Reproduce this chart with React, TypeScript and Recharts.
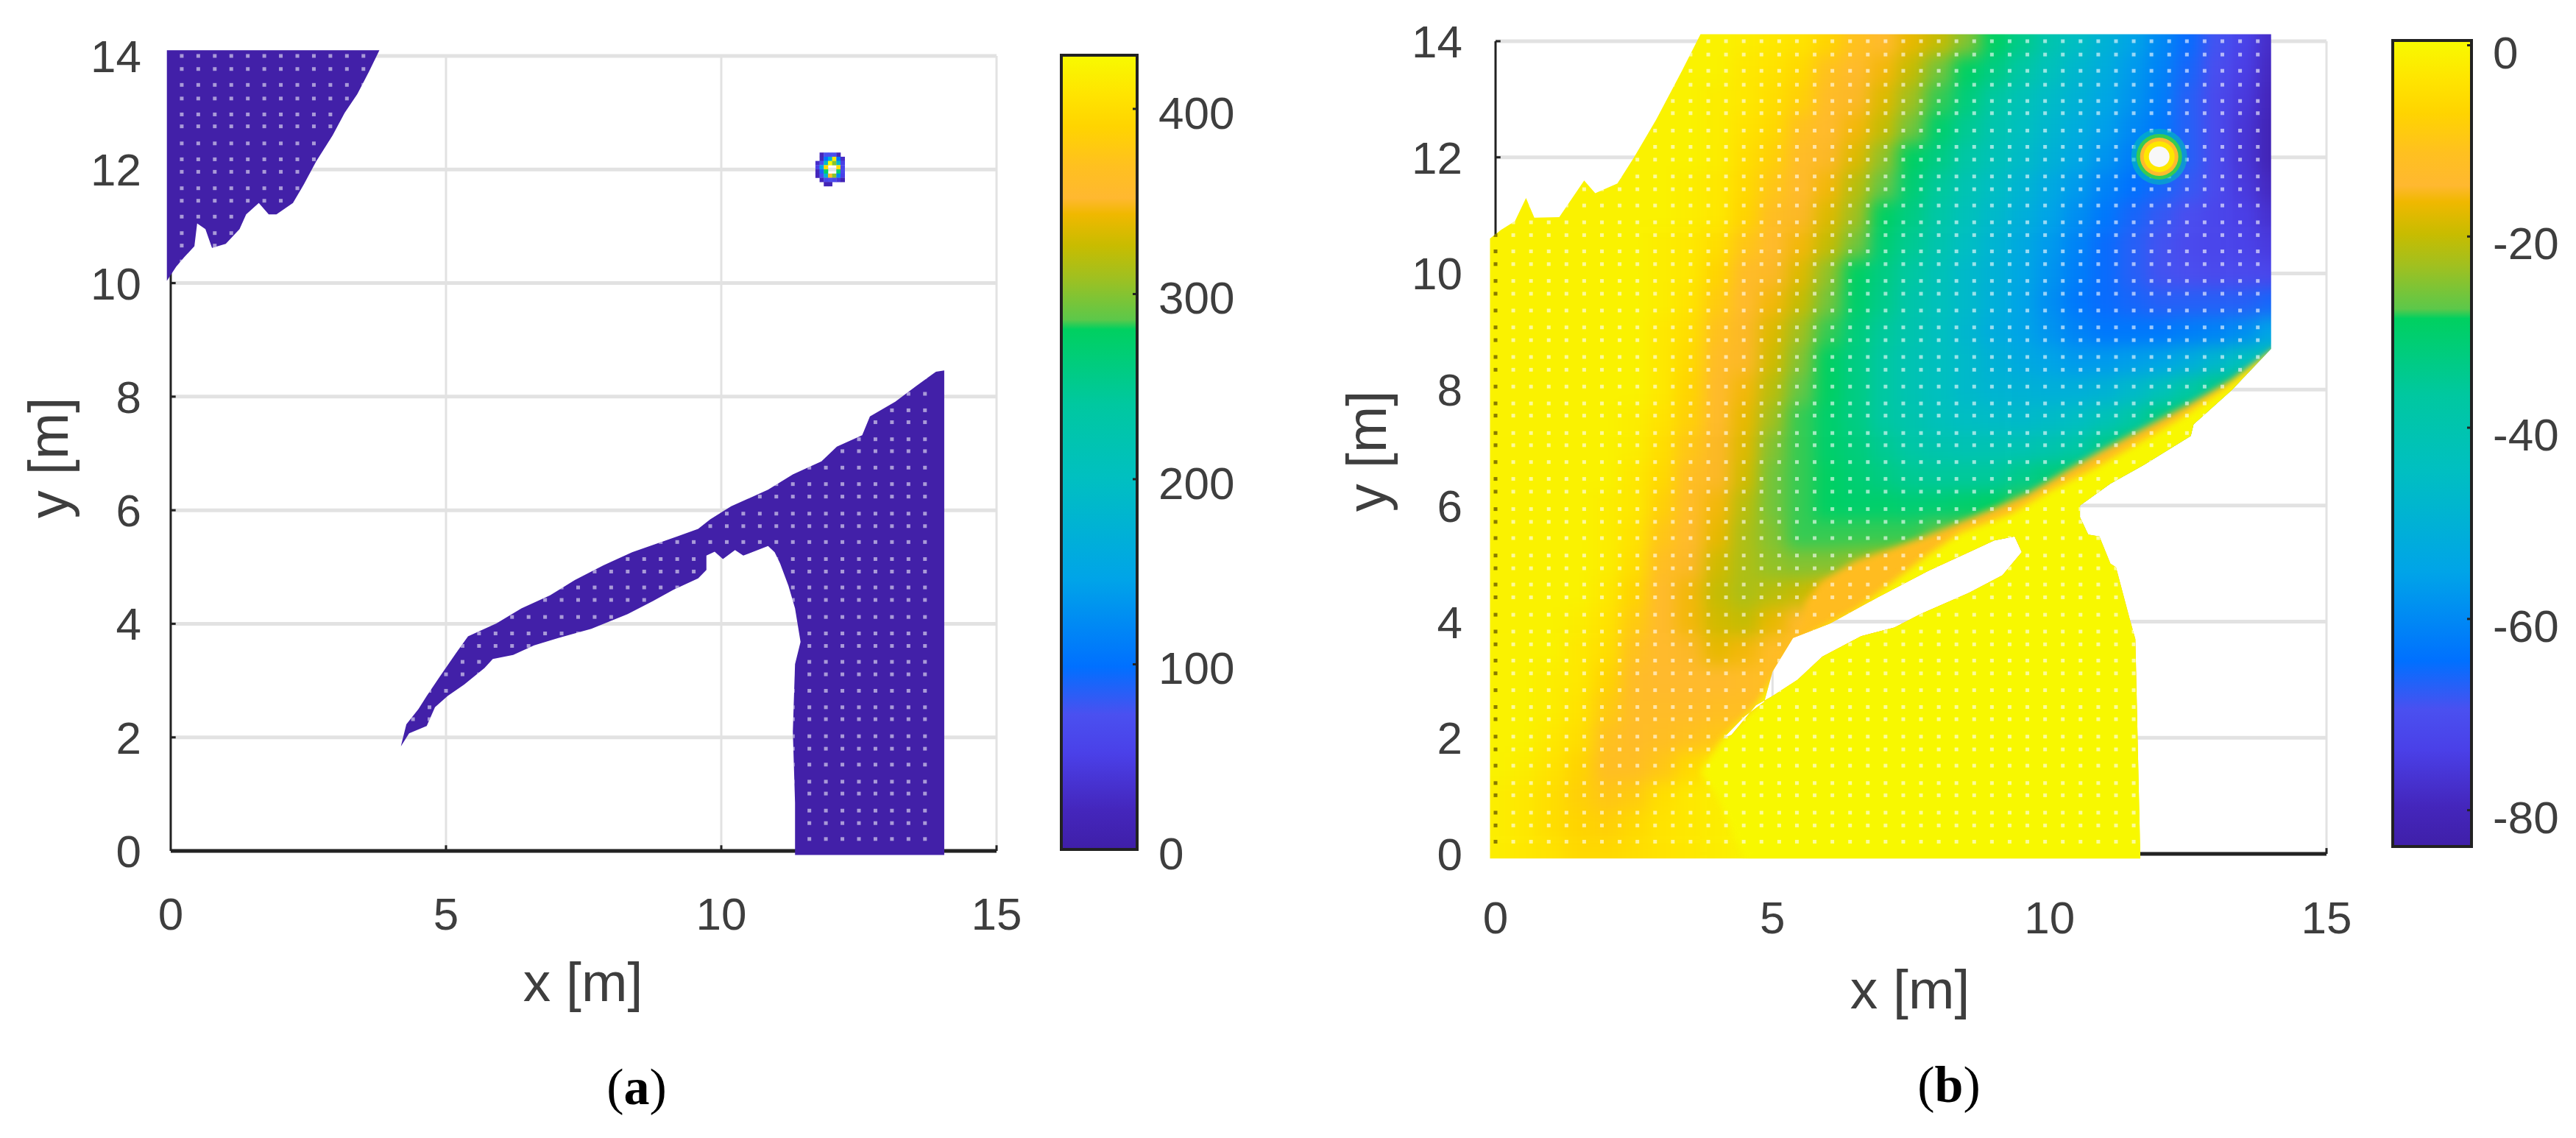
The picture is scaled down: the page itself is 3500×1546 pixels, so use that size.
import React from 'react';
import { ScatterChart, Scatter, XAxis, YAxis, ReferenceLine, Label, BarChart, Bar } from 'recharts';

// ---------- colour map (position along the bar, colour) ----------
const cmapT = [0, 0.05, 0.12, 0.17, 0.23, 0.34, 0.47, 0.56, 0.655, 0.667, 0.72, 0.76, 0.8, 0.82, 0.86, 0.91, 0.95, 1];
const cmapC = ['#3f1fa8', '#4426bc', '#4a40e8', '#4a50f0', '#0070ff', '#00a4e8', '#00c0c0', '#00c8a0', '#00d060', '#5cc84a', '#a0c020', '#c8bc00', '#f0b800', '#ffb830', '#ffc020', '#ffd400', '#ffe400', '#f8fa00'];

// ---------- axes ----------
const xTicks = [0, 5, 10, 15];
const yTicks = [0, 2, 4, 6, 8, 10, 12, 14];
const barTicksA = [0, 100, 200, 300, 400];
const barTicksB = [-80, -60, -40, -20, 0];
const barRangeA = [0, 429];
const barRangeB = [-83.8, 0.5];

// ---------- panel (a) regions ----------
const regionTopLeft = [[-0.07,14.1],[3.79,14.1],[3.6,13.72],[3.39,13.33],[3.16,13.0],[2.94,12.6],[2.64,12.14],[2.42,11.74],[2.22,11.41],[1.92,11.21],[1.78,11.21],[1.6,11.41],[1.37,11.21],[1.25,10.95],[1,10.69],[0.75,10.62],[0.63,10.95],[0.48,11.05],[0.43,10.65],[0.25,10.46],[0.1,10.29],[-0.07,10.04]];
const regionLower = [[4.18,1.84],[4.28,2.23],[4.5,2.5],[4.65,2.73],[4.88,3.06],[5.18,3.48],[5.4,3.78],[5.92,4.01],[6.37,4.27],[6.89,4.5],[7.34,4.77],[7.86,5.03],[8.38,5.26],[9.2,5.54],[9.58,5.67],[9.8,5.84],[10.18,6.07],[10.85,6.36],[11.3,6.63],[11.82,6.86],[12.1,7.12],[12.56,7.32],[12.7,7.65],[13.16,7.91],[13.53,8.18],[13.9,8.44],[14.05,8.46],[14.05,-0.07],[11.34,-0.07],[11.34,0.85],[11.3,2.1],[11.34,3.29],[11.44,3.68],[11.34,4.27],[11.22,4.67],[11.07,5.06],[10.97,5.26],[10.85,5.37],[10.4,5.2],[10.25,5.3],[10.03,5.14],[9.88,5.27],[9.73,5.2],[9.73,4.95],[9.58,4.8],[9.13,4.6],[8.76,4.4],[8.3,4.17],[7.64,3.91],[7.04,3.75],[6.6,3.62],[6.22,3.45],[5.85,3.38],[5.7,3.22],[5.33,2.93],[5.03,2.73],[4.8,2.53],[4.65,2.2],[4.33,2.07]];

// panel (a) source spot: values per small cell, null = above the scale (no colour)
const spotAX = [11.75, 11.826, 11.902, 11.978, 12.054, 12.13, 12.206];
const spotAY = [12.26, 12.186, 12.112, 12.038, 11.964, 11.89, 11.816, 11.742];
const spotAV = [
  [null, 20, 70, 70, 70, 20, null],
  [null, 20, 100, 170, 415, 100, 30],
  [30, 70, 185, 429, 300, 190, 50],
  [50, 150, 400, null, null, 400, 60],
  [20, 90, 280, null, null, 270, 60],
  [20, 70, 170, 370, 300, 120, 50],
  [null, 20, 60, 70, 60, 40, 15],
  [null, null, 15, 15, null, null, null],
];

// ---------- panel (b) regions ----------
const regionOuter = [[-0.1,-0.08],[-0.1,10.6],[0.1,10.75],[0.35,10.9],[0.55,11.3],[0.7,10.96],[1.15,10.97],[1.6,11.6],[1.8,11.38],[2.2,11.55],[2.5,12],[2.9,12.65],[3.37,13.5],[3.7,14.12],[14,14.12],[14,8.7],[13.3,8],[12.6,7.4],[12.55,7.2],[11.7,6.7],[11.1,6.38],[10.55,6.0],[10.55,5.8],[10.7,5.5],[10.9,5.47],[11.1,5],[11.2,4.94],[11.45,4.04],[11.55,3.7],[11.64,-0.08]];
const regionHole = [[4.1,1.98],[4.5,2.37],[4.85,2.62],[5,3.14],[5.37,3.72],[6.04,3.97],[6.9,4.42],[7.8,4.87],[8.55,5.2],[9,5.4],[9.37,5.47],[9.5,5.2],[9.15,4.8],[8.55,4.5],[7.67,4.13],[7.2,3.9],[6.6,3.75],[5.9,3.4],[5.45,3],[5,2.72],[4.7,2.56],[4.26,2.05]];

// narrow orange band and the yellow ground below the diagonal edge in (b)
const bandOrange = [[14.2,8.8],[13.3,8.17],[12.56,7.77],[11.67,7.32],[10.9,6.93],[10.3,6.6],[9.6,6.2],[8.85,5.9],[8.1,5.6],[7.2,5.28],[6.5,5.05],[5.9,4.7],[5.6,4.35],[5.55,4],[5.2,3.5],[5,3],[8,4],[14.2,8]];
const bandYellow = [[14.2,8.75],[13.15,8],[12.3,7.47],[11.5,7.02],[10.8,6.64],[10,6.25],[9.3,5.86],[8.4,5.54],[7.8,5.15],[7.2,4.7],[6.5,4.2],[5.9,3.9],[5.4,3.6],[5,3],[4.7,2.56],[4.1,2],[3.7,1.4],[4,1],[4.5,-0.1],[14.2,-0.1]];

// panel (b) field, dB, read by eye on a half-metre grid
const fieldX = [0,0.5,1,1.5,2,2.5,3,3.5,4,4.5,5,5.5,6,6.5,7,7.5,8,8.5,9,9.5,10,10.5,11,11.5,12,12.5,13,13.5,14];
const fieldY = [14,13.5,13,12.5,12,11.5,11,10.5,10,9.5,9,8.5,8,7.5,7,6.5,6,5.5,5,4.5,4,3.5,3,2.5,2,1.5,1,0.5,0];
const fieldV = [
  [-1,-1,-1,-1,-1,-1,-1,-1,-1,-2,-3,-4,-7,-11,-14,-17,-20,-25,-29,-34,-40,-45,-50,-55,-60,-65,-69,-73,-78],
  [-1,-1,-1,-1,-1,-1,-1,-1,-1,-3,-4,-6,-11,-14,-16,-20,-26,-29,-33,-38,-43,-48,-52,-57,-61,-66,-70,-74,-79],
  [-1,-1,-1,-1,-1,-1,-1,-1,-2,-3,-5,-8,-13,-15,-18,-23,-28,-32,-37,-42,-46,-50,-54,-58,-62,-67,-71,-75,-80],
  [-1,-1,-1,-1,-1,-1,-1,-1,-2,-4,-6,-11,-14,-16,-20,-26,-30,-35,-40,-44,-48,-52,-56,-60,-63,-67,-71,-76,-81],
  [-1,-1,-1,-1,-1,-1,-1,-1,-2,-5,-8,-13,-15,-18,-24,-29,-33,-38,-42,-46,-50,-54,-58,-62,-64,-67,-71,-76,-81],
  [-1,-1,-1,-1,-1,-1,-1,-2,-3,-6,-10,-14,-16,-21,-27,-31,-36,-41,-45,-49,-53,-57,-61,-64,-66,-68,-71,-75,-79],
  [-1,-1,-1,-1,-1,-1,-1,-2,-3,-7,-12,-15,-18,-23,-29,-33,-38,-43,-47,-51,-55,-59,-63,-66,-68,-70,-72,-74,-77],
  [-1,-1,-1,-1,-1,-1,-2,-3,-5,-10,-14,-16,-20,-26,-31,-35,-40,-45,-49,-53,-57,-61,-65,-67,-69,-71,-72,-73,-75],
  [-1,-1,-1,-1,-1,-1,-2,-3,-7,-13,-15,-18,-24,-29,-33,-37,-42,-47,-50,-54,-58,-62,-65,-67,-69,-70,-71,-71,-72],
  [-1,-1,-1,-1,-1,-1,-2,-4,-9,-14,-16,-20,-26,-30,-34,-39,-43,-47,-51,-55,-59,-63,-65,-66,-67,-67,-67,-67,-66],
  [-1,-1,-1,-1,-1,-1,-3,-5,-11,-15,-18,-23,-28,-32,-36,-40,-44,-48,-52,-55,-58,-61,-63,-63,-63,-62,-61,-59,-55],
  [-1,-1,-1,-1,-1,-1,-3,-6,-13,-15,-19,-25,-29,-33,-37,-41,-44,-47,-50,-53,-55,-57,-57,-56,-55,-52,-48,-44,-40],
  [-1,-1,-1,-1,-1,-1,-3,-7,-14,-16,-21,-27,-29,-33,-37,-41,-44,-47,-49,-50,-51,-51,-50,-47,-43,-38,-34,-30,-30],
  [-1,-1,-1,-1,-1,-2,-4,-8,-14,-17,-23,-28,-30,-33,-37,-40,-43,-45,-46,-47,-46,-45,-42,-38,-33,-30,-30,-30,-30],
  [-1,-1,-1,-1,-1,-2,-5,-10,-15,-18,-25,-28,-30,-32,-35,-38,-40,-41,-41,-41,-40,-38,-34,-30,-29,-29,-29,-29,-29],
  [-1,-1,-1,-1,-1,-3,-6,-12,-15,-19,-26,-28,-29,-31,-33,-35,-36,-36,-36,-34,-32,-30,-29,-29,-29,-29,-29,-29,-29],
  [-1,-1,-1,-1,-2,-3,-8,-13,-16,-21,-26,-28,-29,-30,-30,-31,-31,-30,-29,-28,-28,-28,-28,-28,-28,-28,-28,-28,-28],
  [-1,-1,-1,-1,-2,-4,-10,-14,-17,-22,-25,-28,-28,-28,-28,-28,-27,-26,-26,-20,-20,-20,-20,-20,-20,-20,-20,-20,-20],
  [-1,-1,-1,-1,-2,-5,-12,-15,-19,-22,-24,-25,-25,-24,-22,-18,-15,-15,-15,-15,-15,-15,-15,-15,-15,-15,-15,-15,-15],
  [-1,-1,-1,-1,-3,-7,-14,-16,-20,-22,-21,-20,-17,-15,-15,-15,-15,-15,-15,-15,-15,-15,-15,-15,-15,-15,-15,-15,-15],
  [-1,-1,-1,-2,-4,-9,-14,-16,-19,-20,-17,-14,-12,-12,-12,-12,-12,-12,-12,-12,-12,-12,-12,-12,-12,-12,-12,-12,-12],
  [-1,-1,-1,-3,-5,-11,-14,-15,-17,-16,-13,-12,-12,-12,-12,-12,-12,-12,-12,-12,-12,-12,-12,-12,-12,-12,-12,-12,-12],
  [-1,-1,-2,-3,-7,-13,-14,-14,-14,-13,-12,-12,-12,-12,-12,-12,-12,-12,-12,-12,-12,-12,-12,-12,-12,-12,-12,-12,-12],
  [-1,-1,-2,-4,-9,-13,-13,-13,-12,-12,-12,-12,-12,-12,-12,-12,-12,-12,-12,-12,-12,-12,-12,-12,-12,-12,-12,-12,-12],
  [-1,-1,-3,-5,-11,-13,-12,-11,-10,-10,-10,-10,-10,-10,-10,-10,-10,-10,-10,-10,-10,-10,-10,-10,-10,-10,-10,-10,-10],
  [-1,-2,-4,-7,-12,-12,-10,-6,-3,-1,-1,-1,-1,-1,-1,-1,-1,-1,-1,-1,-1,-1,-1,-1,-1,-1,-1,-1,-1],
  [-2,-3,-5,-8,-10,-9,-5,-3,-2,-1,-1,-1,-1,-1,-1,-1,-1,-1,-1,-1,-1,-1,-1,-1,-1,-1,-1,-1,-1],
  [-2,-3,-5,-7,-8,-6,-4,-3,-2,-1,-1,-1,-1,-1,-1,-1,-1,-1,-1,-1,-1,-1,-1,-1,-1,-1,-1,-1,-1],
  [-2,-3,-4,-6,-6,-5,-4,-3,-2,-1,-1,-1,-1,-1,-1,-1,-1,-1,-1,-1,-1,-1,-1,-1,-1,-1,-1,-1,-1],
];

// panel (b) source spot
const spotB = [{ x: 11.98, y: 12.01 }];
const spotRingR = [38, 31, 26, 21, 14];
const spotRingV = [-42, -28, -14, -3, null];

// measurement holes in the maps
const holeRows = [0.21,0.49,0.71,1.01,1.22,1.52,1.8,2.02,2.32,2.53,2.82,3.11,3.33,3.61,3.83,4.12,4.42,4.64,4.92,5.14,5.44,5.72,5.94,6.24,6.46,6.75,7.04,7.25,7.55,7.76,8.05,8.34,8.56,8.85,9.07,9.36,9.65,9.87,10.16,10.38,10.66,10.88,11.17,11.45,11.67,11.96,12.18,12.46,12.76,12.97,13.25,13.49,13.77,14.0];
const holeColsA = [0.2,0.5,0.8,1.1,1.4,1.7,2,2.3,2.6,2.9,3.2,3.5,3.8,4.1,4.4,4.7,5,5.3,5.6,5.9,6.2,6.5,6.8,7.1,7.4,7.7,8,8.3,8.6,8.9,9.2,9.5,9.8,10.1,10.4,10.7,11,11.3,11.6,11.9,12.2,12.5,12.8,13.1,13.4,13.7];
const holeColsB = [0,0.32,0.64,0.96,1.28,1.6,1.92,2.24,2.56,2.88,3.2,3.52,3.84,4.16,4.48,4.8,5.12,5.44,5.76,6.08,6.4,6.72,7.04,7.36,7.68,8,8.32,8.64,8.96,9.28,9.6,9.92,10.24,10.56,10.88,11.2,11.52,11.84,12.16,12.48,12.8,13.12,13.44,13.76];

// ---------- helpers ----------
const hex = (c: string) => [1, 3, 5].map((i) => parseInt(c.slice(i, i + 2), 16));
function colorAt(t: number) {
  const v = Math.max(0, Math.min(1, t));
  let i = 0;
  while (i < cmapT.length - 2 && v > cmapT[i + 1]) i++;
  const f = (v - cmapT[i]) / (cmapT[i + 1] - cmapT[i]);
  const a = hex(cmapC[i]);
  const b = hex(cmapC[i + 1]);
  return `rgb(${a.map((p, k) => Math.round(p + (b[k] - p) * f)).join(',')})`;
}
const colorA = (v: number) => colorAt(v / 429);
const colorB = (v: number) => colorAt((v + 83.8) / 84.3);
const toPts = (a: number[][]) => a.map(([x, y]) => ({ x, y }));
const dPath = (pts: any[]) => 'M' + pts.map((p) => `${p.x},${p.y}`).join('L') + 'Z';
const Nothing = () => null;

const holesA = holeRows.flatMap((y) => holeColsA.map((x) => ({ x, y })));
const holesB = holeRows.flatMap((y) => holeColsB.map((x) => ({ x, y })));
const field = fieldY.flatMap((y, r) => fieldX.map((x, c) => ({ x, y, v: fieldV[r][c] })));
const spotA = spotAY.flatMap((y, r) => spotAX.map((x, c) => ({ x, y, v: spotAV[r][c] }))).filter((d) => d.v !== null);

const SANS = 'Liberation Sans';
const TXT = '#3e3e3e';
const GRID = '#e2e2e2';
const AXIS = '#222222';
const tickStyle = { fontFamily: SANS, fontSize: 62, fill: TXT };

function axisLines() {
  return [
    ...yTicks.map((v) => (
      <ReferenceLine key={'gy' + v} segment={[{ x: 0, y: v }, { x: 15, y: v }]} stroke={GRID} strokeWidth={5} />
    )),
    ...xTicks.filter((v) => v > 0).map((v) => (
      <ReferenceLine key={'gx' + v} segment={[{ x: v, y: 0 }, { x: v, y: 14 }]} stroke={GRID} strokeWidth={3} />
    )),
    <ReferenceLine key="ax" segment={[{ x: 0, y: 0 }, { x: 0, y: 14 }]} stroke={AXIS} strokeWidth={3} />,
    <ReferenceLine key="ay" segment={[{ x: 0, y: 0 }, { x: 15, y: 0 }]} stroke={AXIS} strokeWidth={5} />,
    ...yTicks.filter((v) => v > 0).map((v) => (
      <ReferenceLine key={'ty' + v} segment={[{ x: 0, y: v }, { x: 0.09, y: v }]} stroke={AXIS} strokeWidth={3} />
    )),
    ...xTicks.filter((v) => v > 0).map((v) => (
      <ReferenceLine key={'tx' + v} segment={[{ x: v, y: 0 }, { x: v, y: 0.1 }]} stroke={AXIS} strokeWidth={3} />
    )),
  ];
}

const axisText = (t: string, x: number, y: number, size: number, rot = false) => () => (
  <text
    x={x}
    y={y}
    fontFamily={SANS}
    fontSize={size}
    fill={TXT}
    textAnchor="middle"
    dominantBaseline="central"
    transform={rot ? `rotate(-90 ${x} ${y})` : undefined}
  >
    {t}
  </text>
);

const holeShape = (clip: string, op: number) => (p: any) => (
  <rect
    x={p.cx - 2.5}
    y={p.cy - 2.5}
    width={5}
    height={5}
    clipPath={`url(#${clip})`}
    fill={p.payload.x === 0 ? '#6a5c00' : '#ffffff'}
    fillOpacity={p.payload.x === 0 ? 0.8 : op}
  />
);

function PanelA() {
  const regions = [...toPts(regionTopLeft), ...toPts(regionLower)];
  const split = regionTopLeft.length;
  return (
    <ScatterChart width={1750} height={1546} margin={{ left: 117, right: 396, top: 60.56, bottom: 282.28 }}>
      {axisLines()}
      <XAxis type="number" dataKey="x" domain={[-0.2, 15]} ticks={xTicks} height={100} axisLine={false} tickLine={false} tickMargin={49} tick={tickStyle} interval={0}>
        <Label content={axisText('x [m]', 792, 1334, 75)} />
      </XAxis>
      <YAxis type="number" dataKey="y" domain={[-0.1, 14.2]} ticks={yTicks} width={100} axisLine={false} tickLine={false} tickMargin={19} tick={tickStyle} interval={0}>
        <Label content={axisText('y [m]', 65, 622, 76, true)} />
      </YAxis>
      <Scatter
        data={regions}
        isAnimationActive={false}
        shape={Nothing}
        line={(p: any) => {
          const d = dPath(p.points.slice(0, split)) + dPath(p.points.slice(split));
          return (
            <g>
              <clipPath id="clipA"><path d={d} /></clipPath>
              <path d={d} fill="#4220a8" />
            </g>
          );
        }}
      />
      <Scatter data={holesA} isAnimationActive={false} shape={holeShape('clipA', 0.55)} />
      <Scatter
        data={spotA}
        isAnimationActive={false}
        shape={(p: any) => <rect x={p.cx - 3} y={p.cy - 3} width={6} height={6} fill={colorA(p.payload.v)} />}
      />
    </ScatterChart>
  );
}

const bandShape = (fill: string) => (p: any) => (
  <g clipPath="url(#clipB)">
    <filter id={'edge' + fill.slice(1)} x="-5%" y="-5%" width="110%" height="110%" colorInterpolationFilters="sRGB">
      <feGaussianBlur stdDeviation={5} />
    </filter>
    <path d={dPath(p.points)} fill={fill} filter={`url(#edge${fill.slice(1)})`} />
  </g>
);

function PanelB() {
  const regions = [...toPts(regionOuter), ...toPts(regionHole)];
  const split = regionOuter.length;
  return (
    <ScatterChart width={1750} height={1546} margin={{ left: 166.94, right: 339, top: 40.2, bottom: 278.1 }}>
      {axisLines()}
      <XAxis type="number" dataKey="x" domain={[-0.2, 15]} ticks={xTicks} height={100} axisLine={false} tickLine={false} tickMargin={50} tick={tickStyle} interval={0}>
        <Label content={axisText('x [m]', 845, 1344, 75)} />
      </XAxis>
      <YAxis type="number" dataKey="y" domain={[-0.1, 14.2]} ticks={yTicks} width={100} axisLine={false} tickLine={false} tickMargin={24} tick={tickStyle} interval={0}>
        <Label content={axisText('y [m]', 106, 613, 76, true)} />
      </YAxis>
      <Scatter
        data={regions}
        isAnimationActive={false}
        shape={Nothing}
        line={(p: any) => (
          <clipPath id="clipB">
            <path clipRule="evenodd" d={dPath(p.points.slice(0, split)) + dPath(p.points.slice(split))} />
          </clipPath>
        )}
      />
      <Scatter
        data={field}
        isAnimationActive={false}
        shape={Nothing}
        line={(p: any) => {
          const n = fieldX.length;
          const pts = p.points;
          const w = pts[1].x - pts[0].x;
          const h = pts[n].y - pts[0].y;
          return (
            <g clipPath="url(#clipB)">
              <filter id="blurB" x="-10%" y="-10%" width="120%" height="120%" colorInterpolationFilters="sRGB">
                <feGaussianBlur stdDeviation={11} />
              </filter>
              <g filter="url(#blurB)">
                {pts.map((q: any, i: number) => {
                  const c = i % n;
                  const r = Math.floor(i / n);
                  const xl = c === 0 ? 60 : 0;
                  const xr = c === n - 1 ? 60 : 0;
                  const yt = r === 0 ? 60 : 0;
                  const yb = r === fieldY.length - 1 ? 60 : 0;
                  return (
                    <rect
                      key={i}
                      x={q.x - w / 2 - xl}
                      y={q.y - h / 2 - yt}
                      width={w + xl + xr + 0.5}
                      height={h + yt + yb + 0.5}
                      fill={colorB(field[i].v)}
                    />
                  );
                })}
              </g>
            </g>
          );
        }}
      />
      <Scatter data={toPts(bandOrange)} isAnimationActive={false} shape={Nothing} line={bandShape('#ffbc20')} />
      <Scatter data={toPts(bandYellow)} isAnimationActive={false} shape={Nothing} line={bandShape('#f8f800')} />
      <Scatter data={holesB} isAnimationActive={false} shape={holeShape('clipB', 0.6)} />
      <Scatter
        data={spotB}
        isAnimationActive={false}
        shape={(p: any) => (
          <g>
            {spotRingR.map((r, i) => (
              <circle
                key={r}
                cx={p.cx}
                cy={p.cy}
                r={r}
                fill={spotRingV[i] === null ? '#f8f8f8' : colorB(spotRingV[i] as number)}
                fillOpacity={i === 0 ? 0.55 : 1}
              />
            ))}
          </g>
        )}
      />
    </ScatterChart>
  );
}

function ColorBar({ id, range, ticks, w, h, offset }: { id: string; range: number[]; ticks: number[]; w: number; h: number; offset: number }) {
  return (
    <BarChart
      width={w + 210}
      height={h + 80}
      data={[{ name: 'bar', range }]}
      margin={{ left: 5, right: 0, top: 40, bottom: 40 }}
      barCategoryGap={0}
    >
      <defs>
        <linearGradient id={id} x1="0" y1="1" x2="0" y2="0">
          {cmapT.map((t, i) => (
            <stop key={t} offset={t} stopColor={cmapC[i]} />
          ))}
        </linearGradient>
      </defs>
      <XAxis dataKey="name" hide />
      <YAxis
        orientation="right"
        type="number"
        domain={range}
        ticks={ticks}
        width={205}
        axisLine={false}
        tickSize={-6}
        tickMargin={35}
        tickLine={{ stroke: AXIS, strokeWidth: 3 }}
        tick={{ ...tickStyle, dy: offset }}
        interval={0}
      />
      <Bar dataKey="range" fill={`url(#${id})`} stroke={AXIS} strokeWidth={4} isAnimationActive={false} />
    </BarChart>
  );
}

const caption = (letter: string, x: number, y: number) => (
  <div
    style={{
      position: 'absolute',
      left: x,
      top: y,
      transform: 'translate(-50%, -50%)',
      fontFamily: 'Liberation Serif',
      fontSize: 70,
      color: '#000',
      lineHeight: 1,
    }}
  >
    (<b>{letter}</b>)
  </div>
);

export default function App() {
  return (
    <div style={{ position: 'absolute', left: 0, top: 0, width: 3500, height: 1546, background: '#fff', overflow: 'hidden' }}>
      <div style={{ position: 'absolute', left: 0, top: 0 }}><PanelA /></div>
      <div style={{ position: 'absolute', left: 1750, top: 0 }}><PanelB /></div>
      <div style={{ position: 'absolute', left: 1437, top: 35 }}>
        <ColorBar id="barA" range={barRangeA} ticks={barTicksA} w={103} h={1079} offset={5} />
      </div>
      <div style={{ position: 'absolute', left: 3246, top: 15 }}>
        <ColorBar id="barB" range={barRangeB} ticks={barTicksB} w={107} h={1095} offset={9} />
      </div>
      {caption('a', 865, 1477)}
      {caption('b', 2648, 1474)}
    </div>
  );
}
